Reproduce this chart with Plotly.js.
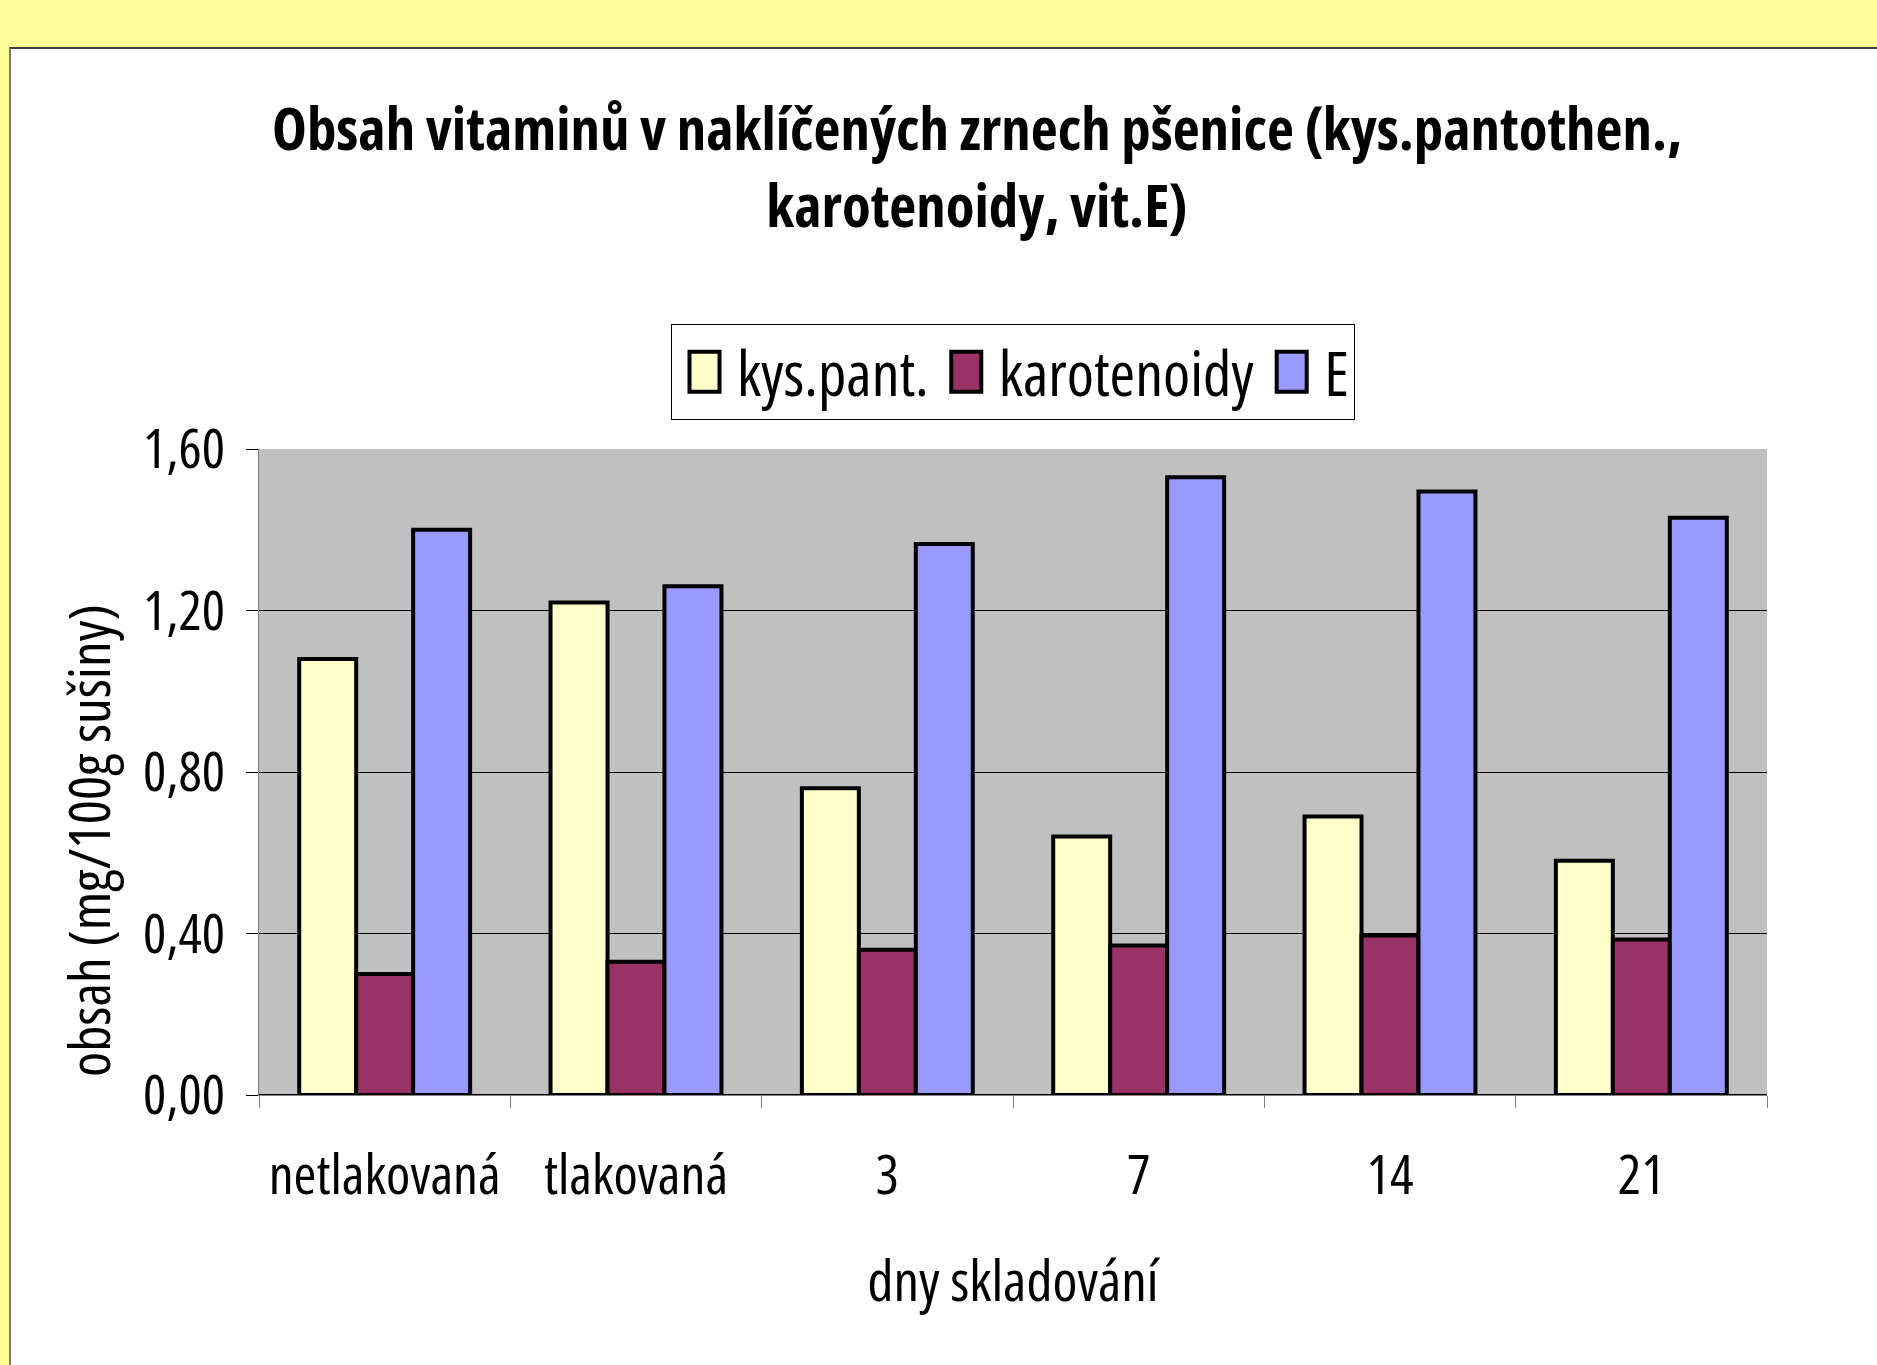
<!DOCTYPE html>
<html><head><meta charset="utf-8">
<script src="https://cdn.plot.ly/plotly-3.0.1.min.js"></script>
<style>
html,body{margin:0;padding:0;width:1877px;height:1365px;overflow:hidden;background:#FFFF99;}
#frame{position:absolute;left:9px;top:47px;width:1900px;height:1400px;background:#fff;border-left:2px solid #7a7a7a;border-top:2px solid #404040;}
#chart{position:absolute;left:0;top:0;width:1877px;height:1365px;}
</style></head><body>
<div id="frame"></div><div id="chart"></div>
<script>
const categories = ['netlakovaná', 'tlakovaná', '3', '7', '14', '21'];
const kysPant = [1.08, 1.22, 0.76, 0.64, 0.69, 0.58];
const karotenoidy = [0.30, 0.33, 0.36, 0.37, 0.395, 0.385];
const vitE = [1.40, 1.26, 1.365, 1.53, 1.495, 1.43];
const yTicks = [0, 0.4, 0.8, 1.2, 1.6];
const seriesNames = ['kys.pant.', 'karotenoidy', 'E'];
const seriesColors = ['#FFFFCC', '#993366', '#9999FF'];
const titleLine1 = 'Obsah vitaminů v naklíčených zrnech pšenice (kys.pantothen.,';
const titleLine2 = 'karotenoidy, vit.E)';
const xTitle = 'dny skladování';
const yTitle = 'obsah (mg/100g sušiny)';

// --- pick a condensed face that is installed (the reference uses narrow lettering)
function measure(text, fam, stretch, weight) {
  const s = document.createElement('span');
  s.style.cssText = 'position:absolute;left:0;top:0;visibility:hidden;white-space:nowrap;font-size:100px;' +
    'font-family:' + fam + ';font-stretch:' + stretch + ';font-weight:' + weight + ';';
  s.textContent = text;
  document.body.appendChild(s);
  const w = s.getBoundingClientRect().width;
  s.remove();
  return w;
}
const probe = 'karotenoidy netlakovaná 0,00';
const baseW = measure(probe, '"Liberation Sans"', 'normal', 400);
const options = [
  {fam: '"Liberation Sans Narrow"', stretch: 'normal'},
  {fam: '"Noto Sans"', stretch: 'condensed'},
  {fam: '"DejaVu Sans"', stretch: 'condensed'},
  {fam: '"Open Sans"', stretch: 'condensed'},
  {fam: 'Roboto', stretch: 'condensed'},
  {fam: '"Liberation Sans"', stretch: 'normal'}
];
let best = options[options.length - 1], bestR = 1;
options.forEach(o => {
  const r = measure(probe, o.fam, o.stretch, 400) / baseW;
  if (r < bestR - 0.02) { bestR = r; best = o; }
});
const FONT = best.fam + ', "Liberation Sans", Arial, sans-serif';
const st = document.createElement('style');
st.textContent = 'svg text, svg tspan { font-stretch: ' + best.stretch + '; }';
document.head.appendChild(st);

function sizeFor(text, targetW, weight) {
  return 100 * targetW / measure(text, FONT, best.stretch, weight || 400);
}
const titleSize = sizeFor(titleLine1, 1410, 700);
const legendSize = sizeFor('karotenoidy', 255);
const xTickSize = sizeFor('netlakovaná', 232);
const yTickSize = sizeFor('0,00', 82);
const xTitleSize = sizeFor(xTitle, 291);
const yTitleSize = sizeFor(yTitle, 473);

const seriesValues = [kysPant, karotenoidy, vitE];
const traces = seriesValues.map((vals, i) => ({
  type: 'bar',
  name: seriesNames[i],
  x: categories,
  y: vals,
  marker: {color: seriesColors[i], line: {color: '#000000', width: 4}},
  hoverinfo: 'skip'
}));

const layout = {
  width: 1877, height: 1365, autosize: false,
  paper_bgcolor: 'rgba(0,0,0,0)',
  plot_bgcolor: '#C0C0C0',
  separators: ',.',
  margin: {l: 259, r: 110, t: 449, b: 270, pad: 0},
  font: {family: FONT, color: '#000000'},
  title: {
    text: titleLine1 + '<br>' + titleLine2,
    font: {family: FONT, size: titleSize, weight: 'bold', color: '#000'},
    xref: 'container', yref: 'container',
    x: 977 / 1877, xanchor: 'center',
    y: 1 - (169 - 0.32 * titleSize) / 1365, yanchor: 'middle'
  },
  barmode: 'group',
  bargap: 0.32,
  bargroupgap: 0,
  showlegend: true,
  legend: {
    orientation: 'h',
    x: 0.5, xanchor: 'center',
    y: (1095 - 372) / 646, yanchor: 'middle',
    bgcolor: '#ffffff', bordercolor: '#000000', borderwidth: 1,
    itemwidth: 55,
    font: {family: FONT, size: legendSize, color: '#000'},
    traceorder: 'normal'
  },
  xaxis: {
    type: 'category',
    tickson: 'boundaries',
    tickangle: 0,
    ticks: 'outside', ticklen: 12, tickwidth: 1, tickcolor: '#808080',
    showline: true, linecolor: '#808080', linewidth: 1,
    showgrid: false, zeroline: false,
    tickfont: {family: FONT, size: xTickSize, color: '#000'},
    ticklabelstandoff: 32,
    title: {text: xTitle, font: {family: FONT, size: xTitleSize, color: '#000'}, standoff: 51},
    fixedrange: true
  },
  yaxis: {
    range: [0, 1.6],
    tickvals: yTicks,
    tickformat: '.2f',
    ticks: 'outside', ticklen: 12, tickwidth: 1, tickcolor: '#000',
    showline: true, linecolor: '#808080', linewidth: 1,
    showgrid: true, gridcolor: '#000000', gridwidth: 1,
    zeroline: true, zerolinecolor: '#000000', zerolinewidth: 2,
    tickfont: {family: FONT, size: yTickSize, color: '#000'},
    ticklabelstandoff: 10,
    fixedrange: true
  },
  annotations: [{
    text: yTitle,
    textangle: -90,
    xref: 'paper', yref: 'paper',
    x: (88 - 259) / 1508, y: (1095 - 841) / 646,
    xanchor: 'center', yanchor: 'middle',
    showarrow: false,
    font: {family: FONT, size: yTitleSize, color: '#000'}
  }]
};

Plotly.newPlot('chart', traces, layout, {staticPlot: true, displayModeBar: false}).then(gd => {
  // legend keys in the reference are tall boxes with a heavy outline
  gd.querySelectorAll('.legend .legendpoints path').forEach(p => {
    p.setAttribute('d', 'M15,20H-15V-20H15Z');
    p.style.strokeWidth = '4px';
    p.style.stroke = '#000';
  });
});
</script>
</body></html>
